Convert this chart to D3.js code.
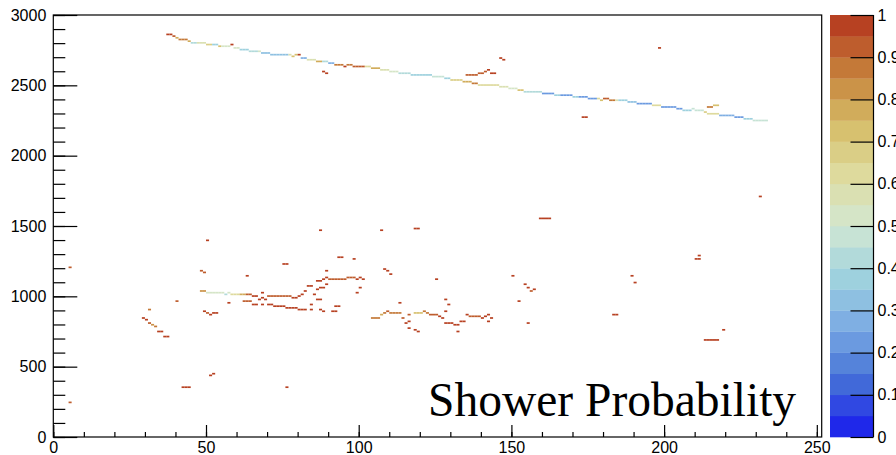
<!DOCTYPE html>
<html>
<head>
<meta charset="utf-8">
<script src="https://cdn.jsdelivr.net/npm/d3@7"></script>
<style>
  html, body { margin: 0; padding: 0; background: #fff; }
  svg { display: block; }
</style>
</head>
<body>
<svg id="chart" width="896" height="455"></svg>
<script>
// ---------------- DATA ----------------
// axis ticks
const xMajorTicks = [0, 50, 100, 150, 200, 250];
const xMinorTicks = d3.range(0, 251, 10);
const yMajorTicks = [0, 500, 1000, 1500, 2000, 2500, 3000];
const yMinorTicks = d3.range(0, 3001, 100);
const zTicks = [0, 0.1, 0.2, 0.3, 0.4, 0.5, 0.6, 0.7, 0.8, 0.9, 1];
const zTickLabels = ["0", "0.1", "0.2", "0.3", "0.4", "0.5", "0.6", "0.7", "0.8", "0.9", "1"];

// histogram binning
const xBinWidth = 1;
const yBinHeight = 12;

// runs of filled bins: [xFirstBin, xEndBin (exclusive), yBinLow, probability]
const trackRuns = [
  [37,39,2856,0.95],[39,40,2844,0.9],[40,41,2832,0.75],[41,44,2820,0.88],[44,45,2808,0.78],
  [45,47,2796,0.42],[47,50,2796,0.55],[50,52,2784,0.65],[52,54,2784,0.38],[54,55,2772,0.72],
  [55,58,2772,0.5],[58,59,2784,0.95],[59,61,2760,0.5],[61,64,2748,0.35],[64,67,2736,0.4],
  [67,68,2736,0.5],[68,71,2724,0.3],[71,77,2712,0.33],[77,78,2712,0.55],[78,79,2700,0.7],
  [79,80,2712,0.72],[80,81,2712,0.95],[81,83,2688,0.25],[83,86,2676,0.58],[86,88,2664,0.78],
  [88,90,2664,0.4],[90,92,2652,0.28],[92,95,2640,0.88],[95,96,2628,0.97],[96,98,2640,0.85],
  [98,102,2628,0.93],[102,104,2628,0.62],[104,107,2616,0.78],[107,110,2604,0.55],[110,113,2592,0.52],
  [113,117,2580,0.4],[117,124,2568,0.37],[124,128,2556,0.45],[128,130,2544,0.35],[130,134,2532,0.68],
  [134,137,2520,0.75],[137,139,2508,0.85],[139,146,2496,0.6],[146,149,2484,0.55],[149,152,2472,0.52],
  [152,154,2460,0.7],[154,160,2448,0.42],[160,164,2436,0.2],[164,166,2424,0.38],[166,170,2424,0.2],
  [170,172,2412,0.38],[172,175,2412,0.22],[175,178,2400,0.2],[178,179,2400,0.6],[179,180,2388,0.7],
  [180,182,2400,0.9],[182,184,2388,0.85],[184,185,2388,0.55],[185,188,2388,0.38],[188,191,2376,0.3],
  [191,196,2364,0.2],[196,199,2352,0.62],[199,204,2340,0.2],[204,206,2328,0.22],[206,209,2316,0.35],
  [209,210,2328,0.45],[210,213,2316,0.45],[213,214,2304,0.68],[214,218,2292,0.6],[218,223,2280,0.28],
  [223,226,2268,0.22],[226,229,2256,0.38],[229,234,2244,0.45]
];

const upperHits = [
  [88,89,2592,0.95],[89,90,2580,0.95],
  [135,139,2568,0.93],[139,141,2580,0.93],[141,142,2592,0.9],[142,143,2604,0.95],[143,145,2580,0.95],
  [146,147,2688,0.95],[147,148,2676,0.95],[198,199,2760,0.95],[173,175,2268,0.95],
  [214,216,2340,0.85],[216,218,2352,0.72]
];

const showerRuns = [
  [29,30,840,0.95],[30,31,828,0.95],[31,32,804,0.9],[32,33,792,0.8],[33,34,780,0.85],
  [34,36,744,0.95],[36,38,708,0.95],[31,32,900,0.88],[40,41,960,0.9],
  [48,49,1176,0.9],[49,50,1164,0.9],
  [48,50,1032,0.8],[50,56,1020,0.52],[56,57,1008,0.42],[57,58,1020,0.5],[58,61,1008,0.6],
  [61,63,1008,0.75],[63,65,1008,0.92],[65,67,996,0.95],
  [68,69,1020,0.95],[67,68,972,0.95],[68,69,984,0.95],[69,70,972,0.95],
  [70,78,996,0.93],[78,80,984,0.95],[80,81,996,0.95],[81,82,1008,0.95],[82,83,1032,0.95],
  [83,85,1068,0.95],[85,86,1008,0.95],[86,87,1044,0.95],[87,89,1056,0.95],
  [86,88,1104,0.95],[88,89,1116,0.95],[89,90,1128,0.95],[90,96,1116,0.93],[96,99,1128,0.93],
  [99,100,1116,0.95],[100,101,1128,0.95],[101,102,1116,0.95],
  [89,90,1176,0.95],[89,90,1080,0.95],
  [86,88,972,0.95],[84,85,936,0.95],[84,85,900,0.95],[87,88,900,0.95],[88,89,888,0.95],
  [91,93,888,0.95],[92,94,924,0.95],[99,100,1020,0.95],[100,101,1056,0.95],
  [93,95,1272,0.95],[98,99,1260,0.95],[75,77,1224,0.95],[63,64,1140,0.95],
  [57,58,948,0.95],[62,65,960,0.9],[65,67,936,0.95],[68,69,936,0.95],[70,72,936,0.95],
  [72,76,924,0.95],[76,80,912,0.95],[80,83,900,0.95],
  [49,50,888,0.95],[50,51,876,0.9],[51,52,864,0.95],[52,54,876,0.95],
  [108,109,1188,0.95],[109,110,1176,0.95],[110,111,1152,0.95],
  [104,107,840,0.88],[107,108,864,0.78],[108,109,876,0.88],[109,110,888,0.9],[110,114,876,0.88],
  [113,114,948,0.95],[114,115,840,0.9],[115,116,804,0.95],[116,117,816,0.95],[116,117,768,0.95],
  [118,119,756,0.95],[119,120,744,0.95],
  [116,117,864,0.9],[118,121,876,0.7],[121,122,888,0.85],[122,123,876,0.88],[123,126,864,0.93],
  [126,127,852,0.95],[127,128,840,0.95],[128,131,804,0.95],[131,133,792,0.95],[133,135,816,0.95],
  [135,136,864,0.95],[136,140,852,0.93],[140,141,840,0.95],[141,142,852,0.95],[142,143,864,0.95],
  [143,144,840,0.95],[142,143,816,0.95],[132,133,744,0.95],
  [125,126,1116,0.95],[128,129,972,0.95],[129,130,936,0.95],[128,129,888,0.95],
  [150,151,1140,0.95],[154,155,1080,0.95],[155,156,1056,0.95],[156,157,1032,0.9],[157,158,1044,0.95],
  [152,153,960,0.95],[155,156,804,0.95]
];

const isolatedHits = [
  [231,232,1704,0.95],[159,163,1548,0.95],[211,212,1284,0.95],[210,212,1260,0.95],
  [5,6,1200,0.9],[5,6,240,0.9],[50,51,1392,0.95],[87,88,1464,0.95],
  [107,108,1464,0.95],[118,120,1476,0.95],
  [189,190,1140,0.95],[190,191,1092,0.95],[183,185,864,0.95],
  [213,218,684,0.95],[219,220,756,0.95],
  [42,45,348,0.95],[76,77,348,0.95],[51,52,432,0.95],[52,53,444,0.95]
];

// palette stops (light temperature)
const paletteStops = [
  [31,40,234],[71,117,214],[123,171,228],[160,211,222],[210,231,210],
  [222,220,160],[214,190,105],[199,132,60],[183,65,34]
];
const nContours = 20;
const titleText = "Shower Probability";

// ---------------- LAYOUT ----------------
const svg = d3.select("#chart");
const plot = { left: 53.3, right: 821.7, top: 15, bottom: 437 };
const bar = { left: 830, right: 873.5, top: 15, bottom: 437 };
const fontSans = "'Liberation Sans', Arial, Helvetica, sans-serif";

const x = d3.scaleLinear().domain([0, 251.6]).range([plot.left, plot.right]);
const y = d3.scaleLinear().domain([0, 3000]).range([plot.bottom, plot.top]);
const z = d3.scaleLinear().domain([0, 1]).range([bar.bottom, bar.top]);

const stopInterp = d3.piecewise(d3.interpolateRgb,
  paletteStops.map(c => d3.rgb(c[0], c[1], c[2])));
const bandColors = d3.range(nContours).map(k => stopInterp(k / (nContours - 1)));
const colorOf = p => bandColors[Math.min(nContours - 1, Math.floor(p * nContours))];

// expand runs into bins
const cells = [];
[trackRuns, upperHits, showerRuns, isolatedHits].forEach(list => {
  list.forEach(([x0, x1, yLow, p]) => {
    d3.range(x0, x1, xBinWidth).forEach(xb => cells.push({ xb, yb: yLow, p }));
  });
});

// cells
svg.append("g").selectAll("rect").data(cells).join("rect")
  .attr("x", d => x(d.xb))
  .attr("y", d => y(d.yb + yBinHeight))
  .attr("width", d => x(d.xb + xBinWidth) - x(d.xb))
  .attr("height", d => y(d.yb) - y(d.yb + yBinHeight))
  .attr("fill", d => colorOf(d.p));

// frame
svg.append("rect")
  .attr("x", plot.left).attr("y", plot.top)
  .attr("width", plot.right - plot.left).attr("height", plot.bottom - plot.top)
  .attr("fill", "none").attr("stroke", "#000").attr("stroke-width", 1.2);

function styleAxis(g) {
  g.select(".domain").remove();
  g.selectAll("line").attr("stroke", "#000").attr("stroke-width", 1.2);
  g.selectAll("text").attr("font-family", fontSans).attr("font-size", 16).attr("fill", "#000");
}

// x axis
svg.append("g").attr("transform", `translate(0,${plot.bottom})`)
  .call(d3.axisBottom(x).tickValues(xMinorTicks).tickSize(-5).tickFormat(""))
  .call(styleAxis);
svg.append("g").attr("transform", `translate(0,${plot.bottom})`)
  .call(d3.axisBottom(x).tickValues(xMajorTicks).tickSize(-12).tickPadding(5).tickFormat(d3.format("d")))
  .call(styleAxis);

// y axis
svg.append("g").attr("transform", `translate(${plot.left},0)`)
  .call(d3.axisLeft(y).tickValues(yMinorTicks).tickSize(-12).tickFormat(""))
  .call(styleAxis);
svg.append("g").attr("transform", `translate(${plot.left},0)`)
  .call(d3.axisLeft(y).tickValues(yMajorTicks).tickSize(-24).tickPadding(7).tickFormat(d3.format("d")))
  .call(styleAxis);

// colour bar
svg.append("g").selectAll("rect").data(bandColors).join("rect")
  .attr("x", bar.left)
  .attr("y", (d, i) => z((i + 1) / nContours))
  .attr("width", bar.right - bar.left)
  .attr("height", (d, i) => z(i / nContours) - z((i + 1) / nContours) + 0.3)
  .attr("fill", d => d);

const zAxis = svg.append("g").attr("transform", `translate(${bar.right},0)`)
  .call(d3.axisRight(z).tickValues(zTicks).tickSize(-23).tickPadding(4 + 23)
    .tickFormat((d, i) => zTickLabels[i]))
  .call(styleAxis);
zAxis.selectAll("text").attr("x", 4);
svg.append("line")
  .attr("x1", bar.right).attr("x2", bar.right)
  .attr("y1", bar.top).attr("y2", bar.bottom)
  .attr("stroke", "#000").attr("stroke-width", 1.2);

// title text
svg.append("text")
  .attr("x", 428).attr("y", 416)
  .attr("font-family", "'Liberation Serif', 'Times New Roman', serif")
  .attr("font-size", 47.5)
  .attr("fill", "#000")
  .text(titleText);
</script>
</body>
</html>
